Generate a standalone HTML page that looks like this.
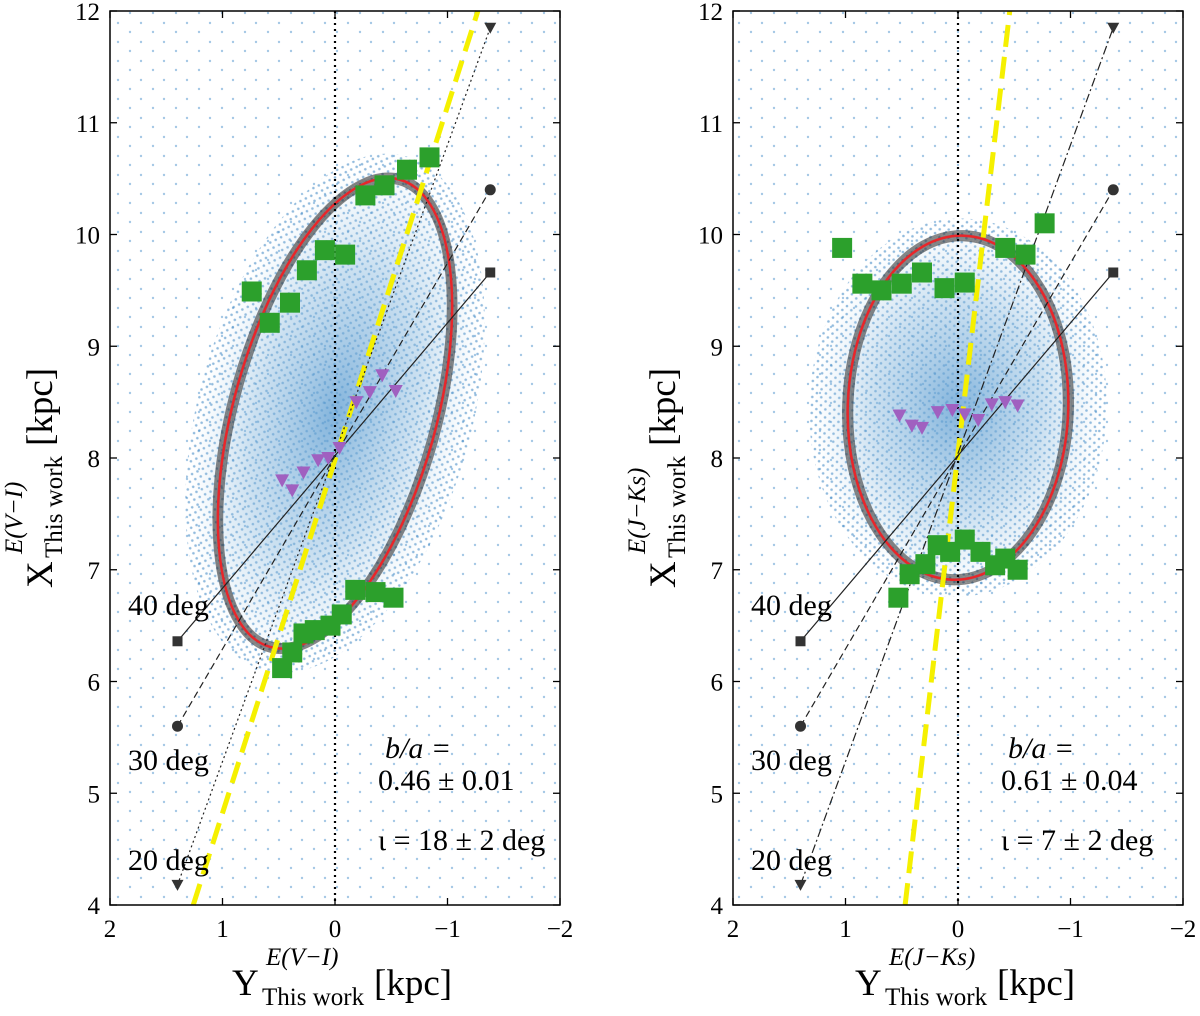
<!DOCTYPE html>
<html><head><meta charset="utf-8"><style>
body{margin:0;background:#fff;}
svg{display:block;font-family:"Liberation Serif",serif;}
</style></head><body>
<svg id="fig" width="1200" height="1016" viewBox="0 0 1200 1016">
<defs>
<pattern id="bgdots" width="23" height="19" patternUnits="userSpaceOnUse">
<circle cx="3" cy="4" r="1.2" fill="#5b9bd0" opacity="0.55"/>
<circle cx="15" cy="13" r="1.2" fill="#5b9bd0" opacity="0.55"/>
</pattern>
<pattern id="densedots" width="9" height="8" patternUnits="userSpaceOnUse">
<circle cx="2" cy="2" r="1.3" fill="#3d86c4" opacity="0.7"/>
<circle cx="6.5" cy="6" r="1.3" fill="#3d86c4" opacity="0.7"/>
</pattern>
<radialGradient id="cloudL"><stop offset="0" stop-color="#5a9bd0" stop-opacity="0.75"/><stop offset="0.6" stop-color="#80b4dc" stop-opacity="0.4"/><stop offset="1" stop-color="#9cc5e4" stop-opacity="0"/></radialGradient>
</defs>
<g id="panels"></g>
</svg>
<script>
// ---- data ----
const leftSquaresY=[0.74,0.58,0.40,0.25,0.09,-0.09,-0.27,-0.44,-0.64,-0.84,0.47,0.38,0.28,0.18,0.04,-0.06,-0.18,-0.36,-0.52];
const leftSquaresX=[9.49,9.21,9.39,9.68,9.86,9.82,10.35,10.44,10.58,10.69,6.12,6.26,6.43,6.46,6.50,6.60,6.82,6.80,6.75];
const leftTriY=[0.47,0.38,0.28,0.15,0.06,-0.04,-0.19,-0.31,-0.42,-0.54];
const leftTriX=[7.80,7.71,7.87,7.98,8.00,8.09,8.50,8.59,8.74,8.60];
const rightSquaresY=[1.03,0.85,0.68,0.50,0.32,0.12,-0.06,-0.42,-0.60,-0.77,0.53,0.43,0.29,0.18,0.07,-0.06,-0.20,-0.33,-0.42,-0.53];
const rightSquaresX=[9.88,9.56,9.50,9.56,9.66,9.52,9.57,9.88,9.82,10.10,6.75,6.96,7.05,7.22,7.16,7.27,7.16,7.04,7.10,7.00];
const rightTriY=[0.52,0.41,0.32,0.18,0.05,-0.06,-0.18,-0.30,-0.42,-0.53];
const rightTriX=[8.38,8.29,8.27,8.41,8.43,8.39,8.34,8.48,8.50,8.47];
const angleLabels=["40 deg","30 deg","20 deg"];
const angleStartX=[6.36,5.60,4.18];
const angleEndX=[9.66,10.40,11.85];
const angleLineY=[1.4,-1.38];
const xTicks=[2,1,0,-1,-2];
const xTickLabels=["2","1","0","\u22121","\u22122"];
const yTicks=[4,5,6,7,8,9,10,11,12];
const leftEllipse={cY:0.0,cX:8.4,a:2.17,b:0.90,tilt:15.5};
const rightEllipse={cY:0.0,cX:8.45,a:1.54,b:0.98,tilt:2};
const leftYellowY=[1.26,-1.27], leftYellowX=[4,12];
const rightYellowY=[0.47,-0.46], rightYellowX=[4,12];

const NS="http://www.w3.org/2000/svg";
const root=document.getElementById('panels');
function mk(tag,attrs,parent){const e=document.createElementNS(NS,tag);for(const k in attrs)e.setAttribute(k,attrs[k]);(parent||root).appendChild(e);return e;}

function axisTitle(g,letter,sup,transform,name){
 const t=mk('g',{transform:transform},g);
 
 
 mk('text',{x:0,y:0,"font-size":37},t).textContent=letter;
 mk('text',{x:30,y:10,"font-size":25},t).textContent="This work";
 mk('text',{x:34,y:-30,"font-size":25,"font-style":"italic"},t).textContent=sup;
 mk('text',{x:142,y:0,"font-size":37},t).textContent="[kpc]";
}

function panel(o){
 const L=o.left,R=o.left+450,T=11,B=905;
 const sx=v=>L+(2-v)*(R-L)/4;
 const sy=v=>T+(12-v)*(B-T)/8;
 const g=mk('g',{});
 
 
 mk('rect',{x:L,y:T,width:R-L,height:B-T,fill:'url(#bgdots)'},g);
 const cx=sx(o.ell.cY),cy=sy(o.ell.cX);
 const rx=o.ell.b*(R-L)/4, ry=o.ell.a*(B-T)/8;
 const cloud=mk('ellipse',{cx:cx,cy:cy,rx:rx*1.35,ry:ry*1.1,fill:'url(#densedots)',transform:`rotate(${o.ell.tilt} ${cx} ${cy})`,opacity:0.8},g);
 
 
 mk('ellipse',{cx:cx,cy:cy,rx:rx*1.3,ry:ry*1.05,fill:'url(#cloudL)',transform:`rotate(${o.ell.tilt} ${cx} ${cy})`},g);
 for(let i=-3;i<=3;i++){mk('ellipse',{cx:cx,cy:cy,rx:rx+i*1.6,ry:ry+i*1.6,fill:'none',stroke:'#222',"stroke-opacity":0.55,"stroke-width":1.6,transform:`rotate(${o.ell.tilt} ${cx} ${cy})`},g);}
 const el=mk('ellipse',{cx:cx,cy:cy,rx:rx,ry:ry,fill:'none',stroke:'#e8262a',"stroke-width":2.5,transform:`rotate(${o.ell.tilt} ${cx} ${cy})`},g);
 
 
 mk('line',{x1:sx(0),x2:sx(0),y1:T,y2:B,stroke:'#000',"stroke-width":2.2,"stroke-dasharray":"2,4"},g);
 const yl=mk('line',{x1:sx(o.yy[0]),y1:sy(o.yx[0]),x2:sx(o.yy[1]),y2:sy(o.yx[1]),stroke:'#f5f000',"stroke-width":5,"stroke-dasharray":"22,10"},g);
 
 
 const dashes=["none","7,4","2,3"];
 const dashesR=["none","7,4","9,3,2,3"];
 for(let i=0;i<3;i++){
  const x1=sx(angleLineY[0]),y1=sy(angleStartX[i]),x2=sx(angleLineY[1]),y2=sy(angleEndX[i]);
  const ln=mk('line',{x1,y1,x2,y2,stroke:'#222',"stroke-width":1.2,"stroke-dasharray":(o.right?dashesR:dashes)[i]},g);
  
  
  [[x1,y1],[x2,y2]].forEach(p=>{
   if(i===0)mk('rect',{x:p[0]-5,y:p[1]-5,width:10,height:10,fill:'#333'},g);
   else if(i===1)mk('circle',{cx:p[0],cy:p[1],r:5.5,fill:'#333'},g);
   else mk('path',{d:`M${p[0]-6},${p[1]-5}L${p[0]+6},${p[1]-5}L${p[0]},${p[1]+6}Z`,fill:'#333'},g);
  });
  const t=mk('text',{x:L+18,y:[615,770,870][i],"font-size":30,fill:'#000'},g);
  t.textContent=angleLabels[i];
  
  
 }
 o.ty.forEach((v,i)=>{const x=sx(v),y=sy(o.tx[i]);
  const m=mk('path',{d:`M${x-7},${y-6}L${x+7},${y-6}L${x},${y+7}Z`,fill:'#a060c0'},g);
  
  });
 o.sqy.forEach((v,i)=>{const x=sx(v),y=sy(o.sqx[i]);
  const m=mk('rect',{x:x-10,y:y-10,width:20,height:20,fill:'#2ca02c'},g);
  
  });
 mk('rect',{x:L,y:T,width:R-L,height:B-T,fill:'none',stroke:'#000',"stroke-width":1.5},g);
 xTicks.forEach((v,i)=>{const x=sx(v);
  mk('line',{x1:x,x2:x,y1:B,y2:B-7,stroke:'#000',"stroke-width":1.3},g);
  mk('line',{x1:x,x2:x,y1:T,y2:T+7,stroke:'#000',"stroke-width":1.3},g);
  const t=mk('text',{x:x,y:B+32,"font-size":25,"text-anchor":"middle"},g);t.textContent=xTickLabels[i];
  
  });
 yTicks.forEach(v=>{const y=sy(v);
  mk('line',{x1:L,x2:L+7,y1:y,y2:y,stroke:'#000',"stroke-width":1.3},g);
  mk('line',{x1:R,x2:R-7,y1:y,y2:y,stroke:'#000',"stroke-width":1.3},g);
  const t=mk('text',{x:L-10,y:y+9,"font-size":25,"text-anchor":"end"},g);t.textContent=String(v);
  
  });
 const a1=mk('text',{x:L+275,y:758,"font-size":30,"font-style":"italic"},g);a1.textContent="b/a =";
 
 
 const a2=mk('text',{x:L+268,y:790,"font-size":30},g);a2.textContent=o.ratio;
 
 
 const a3=mk('text',{x:L+268,y:850,"font-size":30},g);a3.textContent=o.incl;
 
 
 axisTitle(g,"Y",o.sup,`translate(${L+122},995)`,'x-axis-title');
 axisTitle(g,"X",o.sup,`translate(${L-58},588) rotate(-90)`,'y-axis-title');
}
panel({name:'left-panel',left:110,ell:leftEllipse,yy:leftYellowY,yx:leftYellowX,sqy:leftSquaresY,sqx:leftSquaresX,ty:leftTriY,tx:leftTriX,ratio:"0.46 \u00b1 0.01",incl:"\u03b9 = 18 \u00b1 2 deg",sup:"E(V\u2212I)"});
panel({name:'right-panel',left:733,right:true,ell:rightEllipse,yy:rightYellowY,yx:rightYellowX,sqy:rightSquaresY,sqx:rightSquaresX,ty:rightTriY,tx:rightTriX,ratio:"0.61 \u00b1 0.04",incl:"\u03b9 = 7 \u00b1 2 deg",sup:"E(J\u2212Ks)"});
</script>
</body></html>
